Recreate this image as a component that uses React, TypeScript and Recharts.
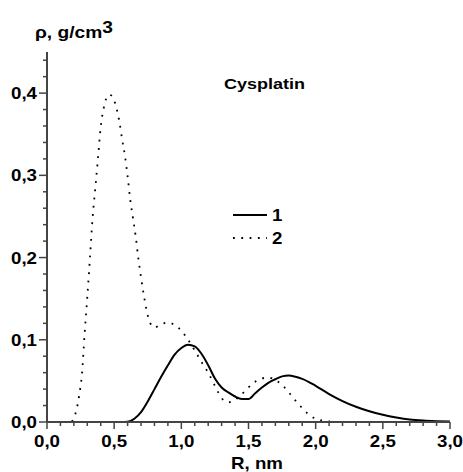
import { Customized, Legend, Line, LineChart, XAxis, YAxis } from "recharts";

// curve 1 (solid)
const rSolid = [0, 0.3, 0.55, 0.6, 0.65, 0.7, 0.75, 0.8, 0.85, 0.9, 0.95, 1.0, 1.05, 1.1, 1.15, 1.2, 1.25, 1.3, 1.35, 1.4, 1.45, 1.5, 1.55, 1.6, 1.65, 1.7, 1.75, 1.8, 1.85, 1.9, 2.0, 2.1, 2.2, 2.3, 2.4, 2.5, 2.6, 2.7, 2.8, 2.9, 3.0];
const rhoSolid = [0, 0, 0, 0.0003, 0.004, 0.012, 0.025, 0.04, 0.055, 0.069, 0.082, 0.09, 0.094, 0.092, 0.083, 0.069, 0.053, 0.042, 0.036, 0.031, 0.028, 0.028, 0.035, 0.042, 0.048, 0.052, 0.0555, 0.0565, 0.055, 0.0525, 0.044, 0.034, 0.0255, 0.0185, 0.013, 0.0088, 0.0055, 0.003, 0.0017, 0.001, 0.0006];

// curve 2 (dotted)
const rDotted = [0, 0.18, 0.2, 0.22, 0.24, 0.26, 0.28, 0.3, 0.32, 0.34, 0.36, 0.38, 0.4, 0.42, 0.44, 0.46, 0.48, 0.5, 0.52, 0.54, 0.56, 0.58, 0.6, 0.62, 0.64, 0.66, 0.68, 0.7, 0.72, 0.74, 0.76, 0.78, 0.8, 0.85, 0.9, 0.95, 1.0, 1.05, 1.1, 1.15, 1.2, 1.25, 1.3, 1.35, 1.4, 1.45, 1.5, 1.55, 1.6, 1.65, 1.7, 1.75, 1.8, 1.85, 1.9, 1.95, 2.0, 2.05, 2.1, 2.2, 3.0];
const rhoDotted = [0, 0, 0.005, 0.015, 0.033, 0.058, 0.107, 0.152, 0.2, 0.25, 0.285, 0.322, 0.359, 0.38, 0.393, 0.398, 0.397, 0.391, 0.38, 0.364, 0.343, 0.324, 0.299, 0.27, 0.248, 0.226, 0.199, 0.176, 0.155, 0.137, 0.124, 0.117, 0.115, 0.119, 0.121, 0.118, 0.111, 0.1, 0.087, 0.073, 0.06, 0.044, 0.029, 0.024, 0.027, 0.034, 0.042, 0.049, 0.053, 0.054, 0.051, 0.045, 0.036, 0.026, 0.017, 0.009, 0.004, 0.0018, 0.0006, 0, 0];

const xTicks = [0, 0.1, 0.2, 0.3, 0.4, 0.5, 0.6, 0.7, 0.8, 0.9, 1.0, 1.1, 1.2, 1.3, 1.4, 1.5, 1.6, 1.7, 1.8, 1.9, 2.0, 2.1, 2.2, 2.3, 2.4, 2.5, 2.6, 2.7, 2.8, 2.9, 3.0];
const xMajor = [0, 0.5, 1.0, 1.5, 2.0, 2.5, 3.0];
const xLabels = ["0,0", "0,5", "1,0", "1,5", "2,0", "2,5", "3,0"];

const yTicks = [0, 0.02, 0.04, 0.06, 0.08, 0.1, 0.12, 0.14, 0.16, 0.18, 0.2, 0.22, 0.24, 0.26, 0.28, 0.3, 0.32, 0.34, 0.36, 0.38, 0.4, 0.42, 0.44];
const yMajor = [0, 0.1, 0.2, 0.3, 0.4];
const yLabels = ["0,0", "0,1", "0,2", "0,3", "0,4"];

const solidData = rSolid.map((r, i) => ({ r, rho: rhoSolid[i] }));
const dottedData = rDotted.map((r, i) => ({ r, rho: rhoDotted[i] }));

const AXIS = "#444";
const FONT = "'Liberation Sans', Arial, sans-serif";
const DOTS = "1.8 6.5";

function Bold({ x, y, anchor = "start", size = 16, sx = 1.17, children }: any) {
  return (
    <text
      transform={`translate(${x},${y}) scale(${sx},1)`}
      textAnchor={anchor}
      fontSize={size}
      fontWeight="bold"
      fontFamily={FONT}
      fill="#000"
    >
      {children}
    </text>
  );
}

function XTick({ x, y, payload }: any) {
  const k = xMajor.indexOf(payload.value);
  return (
    <g>
      <line x1={x} x2={x} y1={y} y2={y + (k >= 0 ? 7 : 4)} stroke={AXIS} strokeWidth={1.5} />
      {k >= 0 && <Bold x={x} y={y + 25} anchor="middle">{xLabels[k]}</Bold>}
    </g>
  );
}

function YTick({ x, y, payload }: any) {
  const k = yMajor.indexOf(payload.value);
  return (
    <g>
      <line x1={x - (k >= 0 ? 8 : 4)} x2={x} y1={y} y2={y} stroke={AXIS} strokeWidth={1.5} />
      {k >= 0 && <Bold x={x - 10} y={y + 6} anchor="end">{yLabels[k]}</Bold>}
    </g>
  );
}

function LegendBox() {
  const rows = [
    { label: "1", dash: undefined as string | undefined },
    { label: "2", dash: DOTS },
  ];
  return (
    <svg width={70} height={50}>
      {rows.map((row, i) => (
        <g key={row.label}>
          <line x1={3} x2={37} y1={10 + i * 23} y2={10 + i * 23} stroke="#000" strokeWidth={row.dash ? 1.8 : 2} strokeDasharray={row.dash} />
          <Bold x={42} y={16 + i * 23}>{row.label}</Bold>
        </g>
      ))}
    </svg>
  );
}

function Titles() {
  return (
    <g>
      <text transform="translate(35,38) scale(1.2,1)" fontSize={16} fontWeight="bold" fontFamily={FONT} fill="#000">
        ρ, g/cm<tspan dy={-5}>3</tspan>
      </text>
      <Bold x={257} y={469} anchor="middle">R, nm</Bold>
      <Bold x={224} y={89} size={15} sx={1.2}>Cysplatin</Bold>
    </g>
  );
}

export default function App() {
  return (
    <div style={{ position: "absolute", left: 0, top: 0, background: "#fff" }}>
      <LineChart width={463} height={472} margin={{ top: 52, right: 13, left: 0, bottom: 20 }}>
        <XAxis
          type="number"
          dataKey="r"
          domain={[0, 3]}
          ticks={xTicks}
          interval={0}
          tickSize={0}
          tickMargin={0}
          tickLine={false}
          tick={<XTick />}
          height={30}
          axisLine={{ stroke: AXIS, strokeWidth: 2 }}
          allowDataOverflow
        />
        <YAxis
          type="number"
          domain={[0, 0.45]}
          ticks={yTicks}
          interval={0}
          tickSize={0}
          tickMargin={0}
          tickLine={false}
          tick={<YTick />}
          width={47}
          axisLine={{ stroke: AXIS, strokeWidth: 2 }}
          allowDataOverflow
        />
        <Line data={solidData} dataKey="rho" name="1" type="monotone" stroke="#000" strokeWidth={2} dot={false} isAnimationActive={false} />
        <Line data={dottedData} dataKey="rho" name="2" type="monotone" stroke="#000" strokeWidth={1.8} strokeDasharray={DOTS} dot={false} isAnimationActive={false} />
        <Legend
          layout="horizontal"
          verticalAlign="middle"
          align="center"
          content={() => <LegendBox />}
          wrapperStyle={{ left: 230, top: 205, width: 70, height: 50 }}
        />
        <Customized component={Titles} />
      </LineChart>
    </div>
  );
}
